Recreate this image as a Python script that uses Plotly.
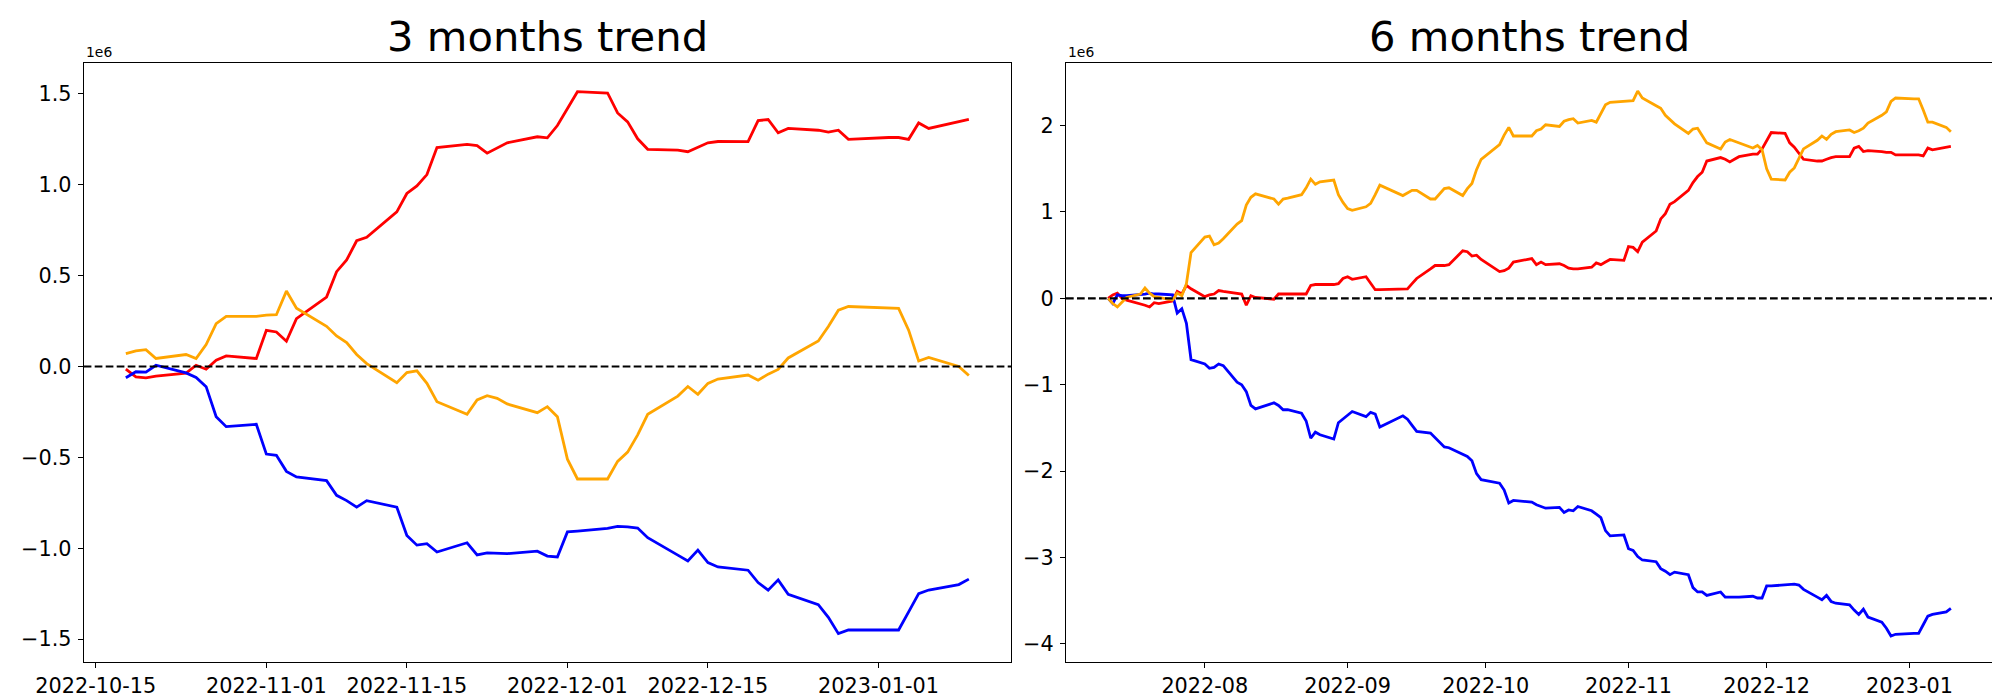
import pandas as pd
import plotly.graph_objects as go

# ---------------- data ----------------
KRX_HOLIDAYS = ["2022-08-15", "2022-09-09", "2022-09-12", "2022-10-03", "2022-10-10", "2022-12-30"]


def trading_days(start, end):
    d = pd.bdate_range(start, end)
    d = d[~d.isin(pd.to_datetime(KRX_HOLIDAYS))]
    return list(d.strftime("%Y-%m-%d"))


dates_3m = trading_days("2022-10-18", "2023-01-10")
dates_6m = trading_days("2022-07-11", "2023-01-10")

# values in units of 1e6
red_3m = [
    -0.015, -0.057, -0.062, -0.053, -0.037, 0.007, -0.015, 0.035, 0.058, 0.044,
    0.199, 0.190, 0.139, 0.263, 0.382, 0.522, 0.586, 0.692, 0.711,
    0.851, 0.952, 0.994, 1.056, 1.205, 1.222, 1.215, 1.174, 1.202, 1.231,
    1.264, 1.258, 1.326,
    1.423, 1.512, 1.505, 1.395, 1.346, 1.253, 1.195, 1.191, 1.182, 1.207, 1.231, 1.238,
    1.237, 1.353, 1.359, 1.286, 1.310, 1.30, 1.29, 1.30, 1.25,
    1.26, 1.26, 1.25, 1.34, 1.31, 1.35, 1.36,
]
blue_3m = [
    -0.062, -0.029, -0.031, 0.007, -0.035, -0.060, -0.111, -0.276, -0.331, -0.318,
    -0.482, -0.489, -0.577, -0.608, -0.628, -0.709, -0.738, -0.774, -0.738,
    -0.774, -0.930, -0.983, -0.975, -1.021, -0.970, -1.037, -1.026, -1.028, -1.030,
    -1.016, -1.043, -1.048,
    -0.910, -0.906, -0.891, -0.880, -0.882, -0.889, -0.942, -1.038, -1.070, -1.010, -1.079, -1.103,
    -1.121, -1.189, -1.231, -1.174, -1.253, -1.31, -1.38, -1.47, -1.45,
    -1.45, -1.45, -1.35, -1.25, -1.23, -1.20, -1.17,
]
orange_3m = [
    0.071, 0.086, 0.093, 0.044, 0.066, 0.044, 0.121, 0.236, 0.276, 0.276,
    0.283, 0.285, 0.415, 0.321, 0.221, 0.168, 0.132, 0.066, 0.016,
    -0.089, -0.033, -0.024, -0.093, -0.194, -0.263, -0.184, -0.161, -0.175, -0.206,
    -0.254, -0.221, -0.276,
    -0.510, -0.619, -0.619, -0.522, -0.471, -0.376, -0.263, -0.163, -0.110, -0.153, -0.093, -0.069,
    -0.047, -0.075, -0.042, -0.016, 0.047, 0.14, 0.22, 0.31, 0.33,
    0.32, 0.32, 0.20, 0.03, 0.05, 0.00, -0.05,
]

red_6m = [
    0.00, 0.04, 0.06, 0.00, -0.02, -0.06, -0.08, -0.10, -0.05, -0.06, -0.03, 0.08, 0.05, 0.15, 0.11,
    0.02, 0.04, 0.05, 0.09, 0.08, 0.06, 0.05, -0.08, 0.03, 0.01, -0.01, 0.05, 0.05, 0.05,
    0.05, 0.05, 0.15, 0.16, 0.16, 0.16, 0.17, 0.23,
    0.25, 0.22, 0.25, 0.17, 0.10, 0.10, 0.11, 0.11, 0.17, 0.23, 0.34, 0.38, 0.38, 0.38, 0.39,
    0.55, 0.54, 0.49, 0.50, 0.45,
    0.31, 0.32, 0.35, 0.42, 0.46, 0.39, 0.42, 0.39, 0.40, 0.38, 0.35, 0.34, 0.34,
    0.36, 0.41, 0.39, 0.42, 0.45, 0.44,
    0.60, 0.59, 0.54, 0.65, 0.78, 0.92, 0.98, 1.09, 1.12, 1.25, 1.34, 1.41, 1.46, 1.59,
    1.63, 1.61, 1.58, 1.61, 1.64, 1.67, 1.67, 1.73,
    1.82, 1.92, 1.91, 1.80, 1.75, 1.68, 1.61, 1.59, 1.59, 1.61, 1.63, 1.64,
    1.64, 1.74, 1.76, 1.70, 1.71, 1.70, 1.69, 1.69, 1.66,
    1.66, 1.66, 1.65, 1.74, 1.72, 1.75, 1.76,
]
blue_6m = [
    0.00, -0.06, 0.04, 0.03, 0.03, 0.04, 0.05, 0.06, 0.05, 0.05, 0.04, -0.17, -0.12, -0.29, -0.71,
    -0.76, -0.81, -0.80, -0.76, -0.78, -0.97, -1.00, -1.08, -1.24, -1.28, -1.21, -1.24, -1.29, -1.29,
    -1.33, -1.42, -1.62, -1.55, -1.58, -1.63, -1.44, -1.40,
    -1.35, -1.31, -1.37, -1.32, -1.34, -1.49, -1.36, -1.40, -1.47, -1.54, -1.56, -1.61, -1.66, -1.72, -1.73,
    -1.80, -1.83, -1.88, -2.03, -2.10,
    -2.14, -2.22, -2.37, -2.34, -2.36, -2.39, -2.41, -2.43, -2.42, -2.48, -2.45, -2.46, -2.41,
    -2.46, -2.50, -2.54, -2.69, -2.75, -2.74,
    -2.90, -2.92, -2.99, -3.03, -3.05, -3.13, -3.16, -3.20, -3.17, -3.20, -3.35, -3.40, -3.40, -3.44,
    -3.40, -3.46, -3.46, -3.46, -3.46, -3.45, -3.47, -3.47,
    -3.33, -3.33, -3.32, -3.31, -3.31, -3.32, -3.37, -3.46, -3.49, -3.44, -3.51, -3.53,
    -3.55, -3.61, -3.66, -3.60, -3.69, -3.75, -3.82, -3.91, -3.89,
    -3.88, -3.88, -3.78, -3.68, -3.66, -3.63, -3.59,
]
orange_6m = [
    0.00, -0.06, -0.10, -0.04, 0.01, 0.05, 0.12, 0.06, 0.02, 0.01, -0.02, 0.06, 0.03, 0.17, 0.53,
    0.71, 0.72, 0.62, 0.64, 0.69, 0.86, 0.90, 1.08, 1.17, 1.21, 1.15, 1.09, 1.15, 1.16,
    1.20, 1.28, 1.38, 1.32, 1.35, 1.37, 1.20, 1.11,
    1.04, 1.02, 1.06, 1.10, 1.20, 1.31, 1.19, 1.22, 1.25, 1.25, 1.15, 1.15, 1.21, 1.27, 1.28,
    1.19, 1.27, 1.33, 1.49, 1.61,
    1.78, 1.89, 1.98, 1.88, 1.88, 1.94, 1.96, 2.01, 1.99, 2.05, 2.07, 2.08, 2.03,
    2.06, 2.04, 2.14, 2.24, 2.27, 2.28,
    2.29, 2.29, 2.40, 2.32, 2.23, 2.20, 2.12, 2.07, 2.02, 1.91, 1.96, 1.97, 1.88, 1.80,
    1.73, 1.81, 1.84, 1.82, 1.80, 1.74, 1.77, 1.72,
    1.50, 1.38, 1.37, 1.46, 1.51, 1.62, 1.73, 1.83, 1.88, 1.84, 1.90, 1.93,
    1.95, 1.92, 1.94, 1.97, 2.03, 2.12, 2.16, 2.28, 2.32,
    2.31, 2.31, 2.18, 2.04, 2.04, 1.98, 1.93,
]

titles = ["3 months trend", "6 months trend"]
xtick_vals_3m = ["2022-10-15", "2022-11-01", "2022-11-15", "2022-12-01", "2022-12-15", "2023-01-01"]
xtick_text_3m = xtick_vals_3m
xtick_vals_6m = ["2022-08-01", "2022-09-01", "2022-10-01", "2022-11-01", "2022-12-01", "2023-01-01"]
xtick_text_6m = ["2022-08", "2022-09", "2022-10", "2022-11", "2022-12", "2023-01"]
ytick_vals_3m = [-1.5, -1.0, -0.5, 0.0, 0.5, 1.0, 1.5]
ytick_vals_6m = [-4, -3, -2, -1, 0, 1, 2]


def fmt(v, nd):
    s = f"{abs(v):.{nd}f}"
    return ("\u2212" + s) if v < 0 else s


ytick_text_3m = [fmt(v, 1) for v in ytick_vals_3m]
ytick_text_6m = [fmt(v, 0) for v in ytick_vals_6m]

# ---------------- figure ----------------
W, H = 2000, 700
colors = {"red": "#ff0000", "blue": "#0000ff", "orange": "#ffa500"}
LW = 2.8

fig = go.Figure()
panels = [
    (dates_3m, [("red", red_3m), ("blue", blue_3m), ("orange", orange_3m)], "x", "y"),
    (dates_6m, [("red", red_6m), ("blue", blue_6m), ("orange", orange_6m)], "x2", "y2"),
]
for dates, series, xa, ya in panels:
    assert all(len(v) == len(dates) for _, v in series), (len(dates), [len(v) for _, v in series])
    for name, vals in series:
        fig.add_trace(go.Scatter(x=dates, y=vals, mode="lines", xaxis=xa, yaxis=ya,
                                 line=dict(color=colors[name], width=LW), showlegend=False,
                                 hoverinfo="skip"))


def xrange_for(dates):
    a, b = pd.Timestamp(dates[0]), pd.Timestamp(dates[-1])
    m = (b - a) * 0.05
    return [(a - m).strftime("%Y-%m-%d %H:%M"), (b + m).strftime("%Y-%m-%d %H:%M")]


dom_x1 = [75.7 / W, 1003 / W]
dom_x2 = [1058 / W, 1985 / W]
dom_y = [(H - 654) / H, (H - 55) / H]

axis_common = dict(showline=True, mirror=True, linecolor="black", linewidth=1.1,
                   showgrid=False, zeroline=False, ticks="outside", ticklen=5,
                   tickwidth=1.1, tickcolor="black", automargin=False,
                   tickfont=dict(family="DejaVu Sans", size=20.8, color="black"))

fig.update_layout(
    width=W, height=H,
    margin=dict(l=0, r=0, t=0, b=0),
    paper_bgcolor="white", plot_bgcolor="white",
    font=dict(family="DejaVu Sans", color="black"),
    showlegend=False,
    xaxis=dict(domain=dom_x1, anchor="y", type="date", range=xrange_for(dates_3m),
               tickmode="array", tickvals=xtick_vals_3m, ticktext=xtick_text_3m, **axis_common),
    yaxis=dict(domain=dom_y, anchor="x", range=[-1.626, 1.67], ticklabelstandoff=2,
               tickmode="array", tickvals=ytick_vals_3m, ticktext=ytick_text_3m, **axis_common),
    xaxis2=dict(domain=dom_x2, anchor="y2", type="date", range=xrange_for(dates_6m),
                tickmode="array", tickvals=xtick_vals_6m, ticktext=xtick_text_6m, **axis_common),
    yaxis2=dict(domain=dom_y, anchor="x2", range=[-4.211, 2.725], ticklabelstandoff=2,
                tickmode="array", tickvals=ytick_vals_6m, ticktext=ytick_text_6m, **axis_common),
)

# zero reference lines
for xa, ya in [("x", "y"), ("x2", "y2")]:
    fig.add_shape(type="line", xref=f"{xa} domain", yref=ya, x0=0, x1=1, y0=0, y1=0,
                  line=dict(color="black", width=2.1, dash="7.7px,3.3px"), layer="above")

# titles and offset text
for dom, title in [(dom_x1, titles[0]), (dom_x2, titles[1])]:
    fig.add_annotation(text=title, xref="paper", yref="paper", x=(dom[0] + dom[1]) / 2,
                       y=dom_y[1], xanchor="center", yanchor="bottom", showarrow=False,
                       font=dict(family="DejaVu Sans", size=41.7, color="black"))
    fig.add_annotation(text="1e6", xref="paper", yref="paper", x=dom[0], y=dom_y[1],
                       xanchor="left", yanchor="bottom", showarrow=False, yshift=1,
                       font=dict(family="DejaVu Sans", size=13.9, color="black"))

fig.write_html("out.html")
